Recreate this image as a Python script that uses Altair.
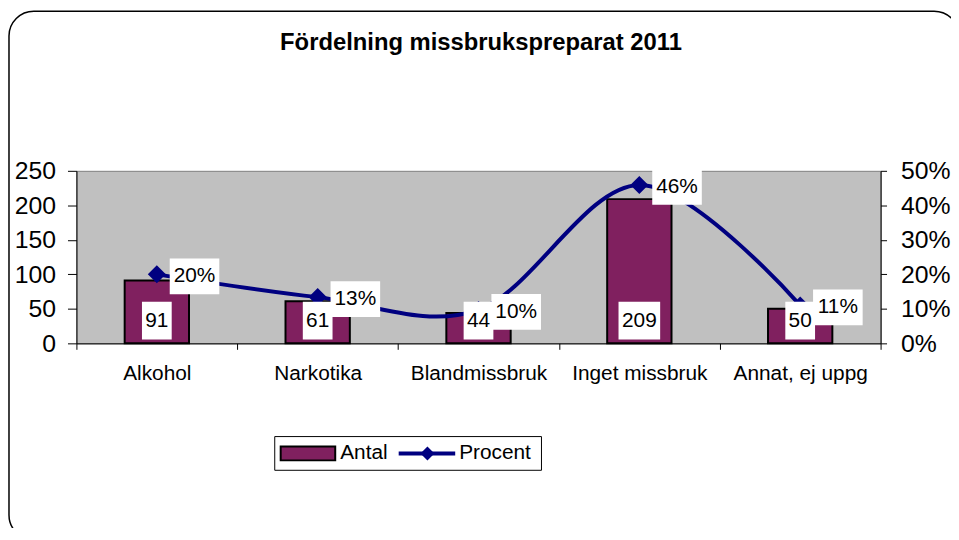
import altair as alt
import pandas as pd

categories = ["Alkohol", "Narkotika", "Blandmissbruk", "Inget missbruk", "Annat, ej uppg"]
antal = [91, 61, 44, 209, 50]
procent = [0.20, 0.134, 0.097, 0.459, 0.11]
antal_labels = ["91", "61", "44", "209", "50"]
procent_labels = ["20%", "13%", "10%", "46%", "11%"]
title_text = "Fördelning missbrukspreparat 2011"
legend_labels = ["Antal", "Procent"]
y_left_ticks = [0, 50, 100, 150, 200, 250]
y_right_ticks = [0, 0.1, 0.2, 0.3, 0.4, 0.5]

FONT = "Liberation Sans"
BAR = "#80205F"
NAVY = "#000080"

df = pd.DataFrame({
    "cat": categories,
    "antal": antal,
    "procent": procent,
    "alab": antal_labels,
    "plab": procent_labels,
})
df["wcls"] = df["alab"].str.len().astype(str)

one = pd.DataFrame({"k": [0]})

xscale = alt.Scale(domain=categories, paddingInner=0, paddingOuter=0)
x_ax = alt.Axis(title=None, labelAngle=0, labelFont=FONT, labelFontSize=21,
                labelColor="black", labelPadding=13, tickSize=6, tickColor="black",
                domainColor="black", tickBand="extent", labelOverlap=False)
X = alt.X("cat:N", sort=categories, scale=xscale, axis=x_ax)

lscale = alt.Scale(domain=[0, 250])
rscale = alt.Scale(domain=[0, 0.5])
l_ax = alt.Axis(title=None, values=y_left_ticks, labelFont=FONT, labelFontSize=25,
                labelColor="black", tickSize=9, labelPadding=12, grid=False,
                domainColor="black", tickColor="black", labelOverlap=False)
r_ax = alt.Axis(title=None, orient="right", format=".0%", values=y_right_ticks,
                labelFont=FONT, labelFontSize=25, labelColor="black", tickSize=6,
                labelPadding=14, grid=False, domainColor="black", tickColor="black",
                labelOverlap=False)

# 1) bars (left axis)
bars = alt.Chart(df).mark_bar(width={"band": 0.4}, color=BAR, stroke="black", strokeWidth=2).encode(
    x=X, y=alt.Y("antal:Q", scale=lscale, axis=l_ax),
)

# 2) line + markers (right axis)
YR = alt.Y("procent:Q", scale=rscale, axis=r_ax)
line = alt.Chart(df).mark_line(color=NAVY, strokeWidth=4, interpolate="cardinal").encode(x=X, y=YR)
pts = alt.Chart(df).mark_point(shape="diamond", filled=True, color=NAVY, opacity=1, size=330).encode(x=X, y=YR)
series2 = alt.layer(line, pts)

# 3) bar data labels (white boxes at the base of each bar)
box2 = "M-0.714,-0.905L0.714,-0.905L0.714,0.905L-0.714,0.905Z"
box3 = "M-1,-0.905L1,-0.905L1,0.905L-1,0.905Z"
YL0 = alt.YDatum(datum=0, scale=lscale, axis=None)
bar_box = alt.Chart(df).mark_point(filled=True, color="white", opacity=1, strokeWidth=0, yOffset=-23).encode(
    x=X,
    y=YL0,
    shape=alt.Shape("wcls:N", scale=alt.Scale(domain=["2", "3"], range=[box2, box3]), legend=None),
    size=alt.value(1764),
)
bar_txt = alt.Chart(df).mark_text(font=FONT, fontSize=21, color="black", dy=-23, baseline="middle").encode(
    x=X, y=YL0, text="alab:N",
)
bar_labels = alt.layer(bar_box, bar_txt)

# 4) percent data labels (white boxes right of each marker)
YRn = alt.Y("procent:Q", scale=rscale, axis=None)
pbox = "M-1,-0.72L1,-0.72L1,0.72L-1,0.72Z"
pct_box = alt.Chart(df).mark_point(shape=pbox, filled=True, color="white", opacity=1, strokeWidth=0,
                                   size=2500, xOffset=38, yOffset=2).encode(x=X, y=YRn)
pct_txt = alt.Chart(df).mark_text(font=FONT, fontSize=21, color="black", dx=38, dy=2,
                                  baseline="middle").encode(x=X, y=YRn, text="plab:N")
pct_labels = alt.layer(pct_box, pct_txt)

# decorations: outer frame, title, legend
frame = alt.Chart(one).mark_rect(fillOpacity=0, stroke="black", strokeWidth=1.5, cornerRadius=25).encode(
    x=alt.value(-68), x2=alt.value(890), y=alt.value(-161), y2=alt.value(372)
)
title = alt.Chart(one).mark_text(text=title_text, font=FONT, fontSize=24, fontWeight="bold",
                                 color="black", baseline="middle").encode(
    x=alt.value(408), y=alt.value(-129)
)
leg_box = alt.Chart(one).mark_rect(fill="white", stroke="black", strokeWidth=1).encode(
    x=alt.value(200), x2=alt.value(469), y=alt.value(268), y2=alt.value(302)
)
leg_bar = alt.Chart(one).mark_rect(fill=BAR, stroke="black", strokeWidth=2).encode(
    x=alt.value(206), x2=alt.value(261), y=alt.value(278), y2=alt.value(292)
)
leg_t1 = alt.Chart(one).mark_text(text=legend_labels[0], font=FONT, fontSize=21, color="black",
                                  align="left", baseline="middle").encode(x=alt.value(266), y=alt.value(285))
leg_line = alt.Chart(one).mark_rule(color=NAVY, strokeWidth=4).encode(
    x=alt.value(325), x2=alt.value(382), y=alt.value(285)
)
leg_pt = alt.Chart(one).mark_point(shape="diamond", filled=True, color=NAVY, opacity=1, size=200).encode(
    x=alt.value(354), y=alt.value(285)
)
leg_t2 = alt.Chart(one).mark_text(text=legend_labels[1], font=FONT, fontSize=21, color="black",
                                  align="left", baseline="middle").encode(x=alt.value(386), y=alt.value(285))

deco = alt.layer(frame, title, leg_box, leg_bar, leg_t1, leg_line, leg_pt, leg_t2)

chart = alt.layer(bars, series2, bar_labels, pct_labels, deco).resolve_scale(y="independent").properties(
    width=811, height=174,
    autosize=alt.AutoSizeParams(type="none"),
    padding={"left": 69, "top": 162, "right": 71, "bottom": 184},
).configure_view(fill="#C0C0C0", stroke="#808080")

chart.save("out.html", embed_options={"renderer": "svg", "actions": False})
